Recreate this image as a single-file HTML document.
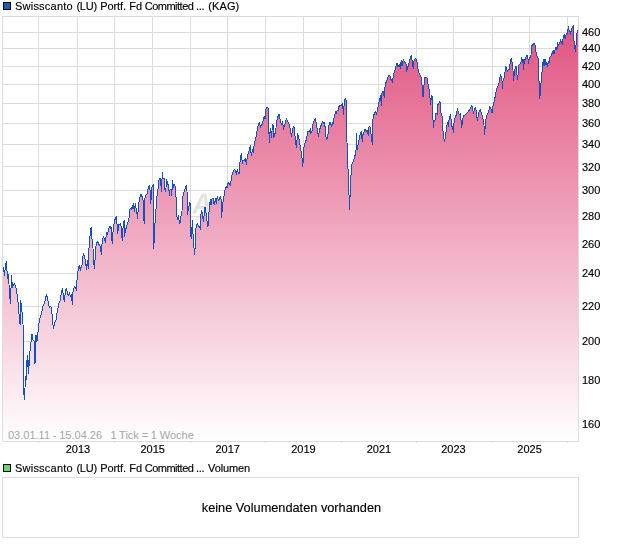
<!DOCTYPE html><html><head><meta charset="utf-8"><title>Chart</title><style>
html,body{margin:0;padding:0;background:#fff}
#c{position:relative;width:620px;height:546px;overflow:hidden;background:#fff;font-family:"Liberation Sans",sans-serif;font-size:11px;color:#000}
.t{position:absolute;white-space:nowrap;line-height:12px}
#tx{position:absolute;left:0;top:0;width:620px;height:546px;-webkit-text-stroke:0.15px #000;will-change:transform;transform:translateZ(0)}
.yl{left:582px}
.xl{width:40px;text-align:center}
</style></head><body><div id="c">
<svg width="620" height="546" viewBox="0 0 620 546" style="position:absolute;left:0;top:0">
<defs><linearGradient id="g" gradientUnits="userSpaceOnUse" x1="0" y1="16.5" x2="0" y2="441.5"><stop offset="0" stop-color="#e0507f"/><stop offset="1" stop-color="#ffffff"/></linearGradient></defs>
<rect x="0" y="0" width="620" height="546" fill="#fff"/>
<path d="M2.5,32.5H578.5M2.5,48.5H578.5M2.5,66.5H578.5M2.5,84.5H578.5M2.5,103.5H578.5M2.5,123.5H578.5M2.5,144.5H578.5M2.5,166.5H578.5M2.5,190.5H578.5M2.5,216.5H578.5M2.5,244.5H578.5M2.5,273.5H578.5M2.5,306.5H578.5M2.5,341.5H578.5M2.5,380.5H578.5M2.5,424.5H578.5M38.5,16.5V441.5M77.5,16.5V441.5M114.5,16.5V441.5M152.5,16.5V441.5M190.5,16.5V441.5M227.5,16.5V441.5M265.5,16.5V441.5M303.5,16.5V441.5M341.5,16.5V441.5M378.5,16.5V441.5M416.5,16.5V441.5M453.5,16.5V441.5M492.5,16.5V441.5M529.5,16.5V441.5M567.5,16.5V441.5" stroke="#dcdcdc" stroke-width="1" fill="none" shape-rendering="crispEdges"/>
<path d="M192.1,213.5 L201.6,193.8 L206.7,193.8 L209.3,213.5 L205.9,213.5 L205.3,208.7 L198.1,208.7 L195.8,213.5 Z M199.4,206 L204.9,206 L203.7,197 Z" fill="#e7e2dd" fill-rule="evenodd"/>
<path d="M2.5,441.5 L2.5,278.7 L2.5,272.6 L3.5,268.0 L4.5,276.0 L5.5,265.0 L6.5,262.0 L7.5,279.0 L8.5,275.0 L9.5,293.0 L10.4,303.5 L11.5,276.0 L12.5,287.2 L13.5,284.5 L14.5,283.3 L15.5,286.2 L16.5,290.2 L17.5,297.3 L18.4,305.4 L19.5,320.0 L20.2,325.0 L20.6,300.4 L21.2,304.0 L22.0,312.0 L23.0,324.0 L23.5,350.0 L23.7,388.0 L24.2,399.4 L25.0,388.0 L25.3,376.0 L26.0,380.0 L26.5,364.0 L27.5,356.0 L28.3,373.7 L28.8,360.0 L29.2,366.0 L29.5,357.0 L30.2,349.0 L32.0,334.3 L33.0,340.0 L34.2,341.0 L35.0,363.6 L36.0,335.3 L36.8,342.0 L37.5,338.0 L38.5,327.0 L39.5,320.0 L41.5,313.0 L43.0,306.0 L44.5,303.5 L46.5,294.3 L47.5,298.0 L48.5,304.0 L49.5,308.0 L50.5,306.5 L51.5,308.0 L52.5,320.0 L53.5,329.0 L54.5,323.0 L56.0,320.0 L57.0,313.0 L58.0,308.0 L59.0,303.0 L60.0,301.0 L61.0,295.0 L62.3,288.7 L63.0,293.3 L64.3,301.3 L65.5,290.2 L66.3,288.7 L67.5,293.3 L68.3,295.3 L69.5,292.8 L70.5,296.3 L71.3,294.3 L72.4,304.4 L72.7,293.3 L73.6,289.7 L74.5,286.7 L75.4,287.7 L76.3,290.2 L76.5,283.7 L77.5,276.0 L78.5,267.0 L79.5,266.0 L80.3,271.0 L81.0,267.5 L82.0,265.4 L83.3,253.3 L84.2,255.3 L85.2,259.4 L86.5,269.6 L87.3,260.9 L88.3,268.6 L88.5,252.3 L89.5,244.2 L90.2,232.6 L91.3,227.1 L92.0,239.2 L93.0,248.3 L93.8,263.4 L94.5,268.6 L95.3,255.3 L96.3,242.7 L97.3,242.2 L97.8,241.7 L98.5,243.2 L99.3,245.2 L100.3,246.3 L101.4,254.3 L102.3,239.7 L103.5,236.2 L104.5,240.2 L105.4,242.2 L106.5,232.6 L107.4,234.2 L108.3,230.6 L109.5,226.6 L110.4,228.1 L111.0,226.6 L111.8,239.2 L112.4,243.7 L113.2,229.1 L114.5,221.0 L116.2,216.2 L117.0,224.0 L117.8,233.6 L118.5,225.0 L120.3,223.6 L121.0,226.0 L122.2,240.2 L123.3,224.0 L124.2,220.0 L124.5,236.2 L125.5,230.0 L126.5,227.0 L128.0,222.0 L129.5,216.0 L130.0,209.4 L131.2,207.3 L132.0,209.4 L133.3,203.3 L134.4,211.4 L135.4,203.3 L136.2,209.4 L137.0,214.4 L137.6,218.4 L138.5,205.3 L139.5,199.3 L140.4,195.7 L141.2,194.2 L142.3,197.3 L143.2,200.3 L143.8,218.4 L144.3,223.6 L145.0,198.3 L146.0,195.2 L147.4,193.7 L148.3,187.2 L149.5,185.2 L150.4,194.2 L150.8,203.3 L151.7,188.2 L153.3,184.2 L153.5,219.4 L153.6,248.3 L154.3,239.2 L154.8,226.0 L155.5,216.0 L156.8,197.3 L157.8,191.2 L158.8,180.1 L160.3,178.1 L161.5,191.2 L162.3,172.1 L163.0,179.1 L164.0,178.1 L164.8,189.2 L165.8,191.2 L166.5,179.1 L167.4,182.6 L168.4,185.7 L169.5,195.7 L170.0,190.2 L171.2,189.2 L171.8,195.7 L172.4,180.1 L173.5,187.2 L174.4,184.2 L175.4,187.7 L176.4,203.3 L176.5,214.0 L177.5,220.0 L178.3,215.0 L179.5,223.1 L180.5,223.0 L181.0,216.0 L182.0,212.0 L182.2,199.4 L183.5,194.3 L184.5,190.3 L185.5,187.3 L186.5,185.2 L187.0,191.3 L187.5,214.6 L188.5,207.0 L189.0,206.4 L190.0,202.4 L190.5,233.2 L191.2,238.3 L192.5,220.1 L193.0,234.2 L193.8,245.3 L194.5,254.9 L195.3,245.3 L195.5,230.2 L196.5,226.2 L197.3,223.6 L198.3,225.7 L199.5,226.7 L200.5,229.2 L201.0,214.0 L201.8,210.0 L202.5,217.1 L203.5,221.6 L204.5,211.0 L205.0,207.0 L206.0,213.0 L207.0,220.6 L207.8,226.7 L208.5,224.2 L209.2,207.4 L209.5,205.3 L210.3,199.6 L211.0,204.7 L212.0,198.6 L213.0,197.9 L213.5,202.6 L214.5,204.3 L215.5,198.2 L216.3,203.3 L217.3,196.2 L218.3,199.6 L219.0,200.3 L220.3,196.2 L221.0,198.6 L221.8,217.5 L222.3,204.7 L223.3,200.6 L224.3,194.5 L225.5,187.3 L226.5,186.2 L227.0,188.3 L228.3,182.2 L229.4,183.7 L230.5,185.2 L231.5,176.2 L232.5,173.1 L233.5,171.1 L234.8,169.1 L235.5,171.6 L236.3,174.2 L237.3,169.6 L238.3,173.6 L239.2,173.3 L240.2,159.2 L241.5,153.2 L242.3,163.3 L243.3,160.2 L244.3,160.2 L245.5,158.7 L246.5,164.3 L247.5,154.2 L248.5,153.7 L249.5,148.1 L250.5,145.4 L251.2,155.5 L252.4,150.0 L253.3,153.0 L254.2,144.0 L255.5,139.5 L256.5,134.3 L257.5,128.2 L258.5,124.2 L259.5,122.2 L260.5,127.2 L261.5,125.2 L262.5,124.2 L263.5,118.1 L264.5,116.1 L265.0,119.2 L265.8,109.1 L267.0,107.1 L268.3,108.1 L268.8,131.3 L269.6,142.3 L270.0,132.3 L270.5,128.2 L271.5,137.3 L272.5,124.2 L273.3,125.2 L273.8,137.8 L274.8,134.3 L275.8,130.2 L276.5,121.2 L277.5,119.2 L278.5,114.1 L279.5,115.1 L280.0,119.2 L281.0,122.7 L281.8,124.2 L282.5,121.2 L283.5,129.2 L284.3,125.2 L285.3,123.7 L286.5,118.1 L287.5,121.2 L288.5,123.2 L289.5,125.2 L290.5,131.3 L291.5,136.3 L292.5,129.2 L293.5,126.2 L294.5,128.2 L295.3,140.3 L296.5,147.5 L297.0,140.3 L297.5,133.3 L298.5,137.3 L299.3,139.4 L300.5,149.4 L301.5,152.4 L302.7,166.1 L303.3,159.3 L304.0,146.9 L304.3,144.4 L305.5,141.4 L306.8,139.4 L307.3,132.3 L308.5,131.3 L309.5,131.8 L310.3,128.8 L310.8,133.8 L312.0,131.3 L312.8,124.2 L313.8,121.7 L315.5,118.7 L316.3,123.7 L317.3,130.3 L318.5,136.8 L319.5,130.3 L320.5,126.8 L321.5,124.2 L322.3,121.7 L323.3,123.7 L324.0,122.2 L324.5,125.7 L325.5,127.3 L326.0,137.3 L327.0,139.4 L327.8,136.8 L328.5,126.3 L329.5,123.2 L330.5,122.2 L331.5,126.8 L332.5,122.2 L333.0,124.2 L333.8,118.7 L334.5,116.2 L335.5,111.6 L336.5,113.1 L337.3,110.1 L338.0,110.6 L338.5,107.6 L339.8,105.1 L341.0,105.6 L342.5,103.6 L343.5,114.2 L344.3,101.0 L345.3,98.5 L346.5,101.6 L347.0,142.4 L347.5,153.8 L348.0,168.9 L348.8,190.9 L349.7,209.5 L350.2,189.5 L350.8,179.9 L351.5,164.8 L352.5,162.7 L353.5,161.3 L354.5,157.2 L355.5,153.8 L356.3,148.3 L356.5,133.3 L357.0,150.0 L358.0,145.0 L359.0,140.3 L360.0,135.3 L361.3,131.3 L362.3,141.8 L362.8,134.8 L363.5,134.8 L364.3,130.2 L365.3,129.2 L366.3,131.3 L367.3,130.2 L368.3,135.8 L369.0,126.7 L369.8,126.2 L370.5,130.2 L371.5,137.3 L372.3,144.9 L372.5,122.7 L373.5,116.1 L374.5,113.1 L375.5,111.6 L376.5,114.1 L377.5,110.6 L378.5,104.5 L379.3,101.0 L380.0,98.4 L380.5,95.9 L381.4,105.5 L382.0,92.8 L383.3,91.3 L384.3,97.4 L384.8,90.3 L385.3,83.3 L386.5,81.8 L387.5,77.7 L388.5,76.2 L389.5,75.2 L390.3,76.7 L390.8,79.2 L391.5,79.7 L392.5,82.3 L393.3,75.2 L394.3,71.7 L395.3,69.2 L396.3,64.6 L397.3,63.1 L398.0,67.1 L398.8,65.1 L399.5,64.6 L400.3,68.6 L401.3,60.1 L402.0,66.1 L403.3,59.1 L404.3,62.1 L405.3,62.6 L406.3,65.1 L406.8,71.2 L407.5,67.1 L408.3,66.1 L409.5,61.1 L410.5,57.1 L411.3,55.0 L412.0,60.1 L412.8,65.1 L413.3,68.6 L414.0,60.6 L415.5,58.1 L416.5,60.1 L417.5,64.6 L418.3,71.6 L419.5,74.6 L420.5,75.1 L421.5,79.2 L422.3,88.2 L423.0,97.3 L423.8,88.2 L424.5,77.6 L426.8,77.6 L427.5,78.6 L428.3,86.7 L429.3,90.2 L430.0,98.3 L430.5,104.4 L431.5,95.8 L432.5,96.8 L432.8,116.1 L433.4,127.7 L434.0,121.7 L435.0,120.2 L435.5,113.6 L436.5,113.1 L437.3,114.1 L437.8,105.0 L438.8,103.0 L440.0,101.4 L440.8,112.1 L441.8,114.6 L442.5,120.2 L443.0,131.3 L443.8,138.3 L444.5,141.3 L445.5,136.3 L446.5,127.2 L447.5,122.7 L448.3,126.2 L448.8,120.2 L449.5,118.6 L450.3,114.6 L451.0,119.2 L451.8,126.2 L452.5,127.2 L453.5,132.3 L454.0,123.2 L454.8,118.6 L455.5,115.6 L456.3,115.1 L457.5,108.5 L458.3,113.1 L459.3,114.6 L460.3,113.6 L461.0,120.2 L461.8,127.2 L462.5,121.2 L463.3,116.1 L464.5,115.1 L465.5,114.6 L467.0,113.1 L468.5,111.6 L469.5,109.3 L470.5,108.5 L471.5,105.2 L472.5,107.5 L473.5,114.0 L474.3,110.0 L475.3,107.5 L476.0,110.2 L476.5,115.0 L477.5,120.7 L478.3,115.0 L479.0,112.0 L480.3,109.2 L481.3,113.2 L482.3,116.3 L483.3,120.3 L484.0,125.3 L484.5,134.4 L485.3,125.3 L486.0,119.3 L487.0,115.2 L488.0,112.7 L489.0,110.2 L489.7,106.7 L490.5,108.7 L491.0,109.2 L492.0,112.7 L492.5,108.2 L493.5,103.6 L494.5,100.1 L495.5,95.1 L496.5,90.0 L497.3,87.4 L498.5,84.4 L499.5,80.9 L500.3,74.3 L501.3,76.3 L502.0,80.9 L502.3,88.5 L503.0,81.4 L504.0,78.3 L504.8,75.3 L505.3,66.3 L506.3,67.3 L507.3,71.3 L508.3,69.8 L509.5,69.3 L510.3,61.2 L511.3,58.2 L512.0,62.2 L512.5,66.3 L513.0,70.3 L513.5,80.4 L514.3,73.3 L515.3,67.3 L516.3,66.3 L516.8,73.3 L517.5,79.4 L518.3,73.3 L519.0,65.2 L520.0,63.7 L521.0,62.2 L521.5,57.2 L522.3,62.2 L523.0,59.2 L523.5,69.3 L524.3,61.2 L525.3,58.7 L526.3,56.7 L527.3,55.2 L528.0,59.2 L528.5,63.7 L529.3,58.2 L530.3,57.0 L531.0,55.0 L531.5,46.2 L532.5,45.2 L534.3,43.4 L535.0,45.2 L535.8,50.2 L536.5,55.2 L537.5,56.5 L538.2,59.0 L538.5,75.2 L539.3,84.3 L539.8,98.4 L540.5,90.3 L541.0,83.3 L541.5,76.2 L542.3,70.0 L543.3,59.5 L544.0,65.8 L545.0,59.5 L546.0,64.8 L546.8,62.0 L547.5,66.5 L548.4,61.3 L549.3,62.4 L549.5,57.3 L550.5,56.3 L551.5,55.3 L552.5,51.8 L553.3,50.3 L554.0,53.8 L554.5,52.8 L555.3,47.8 L556.5,47.3 L557.0,49.8 L557.5,42.2 L558.3,45.2 L559.3,43.7 L560.0,42.2 L560.5,39.2 L561.3,41.7 L562.3,44.7 L562.8,40.2 L563.5,35.2 L564.3,34.7 L565.3,38.7 L566.0,35.2 L567.0,33.6 L567.8,31.1 L568.3,26.1 L569.0,30.1 L570.0,31.6 L570.5,34.2 L571.3,30.1 L572.0,28.1 L573.3,25.1 L573.8,39.2 L574.5,46.3 L575.5,51.8 L576.0,45.2 L576.5,37.2 L577.5,30.1 L578.0,30.1 L578.0,441.5 Z" fill="url(#g)" stroke="none"/>
<polyline points="2.5,278.7 2.5,272.6 3.5,268.0 4.5,276.0 5.5,265.0 6.5,262.0 7.5,279.0 8.5,275.0 9.5,293.0 10.4,303.5 11.5,276.0 12.5,287.2 13.5,284.5 14.5,283.3 15.5,286.2 16.5,290.2 17.5,297.3 18.4,305.4 19.5,320.0 20.2,325.0 20.6,300.4 21.2,304.0 22.0,312.0 23.0,324.0 23.5,350.0 23.7,388.0 24.2,399.4 25.0,388.0 25.3,376.0 26.0,380.0 26.5,364.0 27.5,356.0 28.3,373.7 28.8,360.0 29.2,366.0 29.5,357.0 30.2,349.0 32.0,334.3 33.0,340.0 34.2,341.0 35.0,363.6 36.0,335.3 36.8,342.0 37.5,338.0 38.5,327.0 39.5,320.0 41.5,313.0 43.0,306.0 44.5,303.5 46.5,294.3 47.5,298.0 48.5,304.0 49.5,308.0 50.5,306.5 51.5,308.0 52.5,320.0 53.5,329.0 54.5,323.0 56.0,320.0 57.0,313.0 58.0,308.0 59.0,303.0 60.0,301.0 61.0,295.0 62.3,288.7 63.0,293.3 64.3,301.3 65.5,290.2 66.3,288.7 67.5,293.3 68.3,295.3 69.5,292.8 70.5,296.3 71.3,294.3 72.4,304.4 72.7,293.3 73.6,289.7 74.5,286.7 75.4,287.7 76.3,290.2 76.5,283.7 77.5,276.0 78.5,267.0 79.5,266.0 80.3,271.0 81.0,267.5 82.0,265.4 83.3,253.3 84.2,255.3 85.2,259.4 86.5,269.6 87.3,260.9 88.3,268.6 88.5,252.3 89.5,244.2 90.2,232.6 91.3,227.1 92.0,239.2 93.0,248.3 93.8,263.4 94.5,268.6 95.3,255.3 96.3,242.7 97.3,242.2 97.8,241.7 98.5,243.2 99.3,245.2 100.3,246.3 101.4,254.3 102.3,239.7 103.5,236.2 104.5,240.2 105.4,242.2 106.5,232.6 107.4,234.2 108.3,230.6 109.5,226.6 110.4,228.1 111.0,226.6 111.8,239.2 112.4,243.7 113.2,229.1 114.5,221.0 116.2,216.2 117.0,224.0 117.8,233.6 118.5,225.0 120.3,223.6 121.0,226.0 122.2,240.2 123.3,224.0 124.2,220.0 124.5,236.2 125.5,230.0 126.5,227.0 128.0,222.0 129.5,216.0 130.0,209.4 131.2,207.3 132.0,209.4 133.3,203.3 134.4,211.4 135.4,203.3 136.2,209.4 137.0,214.4 137.6,218.4 138.5,205.3 139.5,199.3 140.4,195.7 141.2,194.2 142.3,197.3 143.2,200.3 143.8,218.4 144.3,223.6 145.0,198.3 146.0,195.2 147.4,193.7 148.3,187.2 149.5,185.2 150.4,194.2 150.8,203.3 151.7,188.2 153.3,184.2 153.5,219.4 153.6,248.3 154.3,239.2 154.8,226.0 155.5,216.0 156.8,197.3 157.8,191.2 158.8,180.1 160.3,178.1 161.5,191.2 162.3,172.1 163.0,179.1 164.0,178.1 164.8,189.2 165.8,191.2 166.5,179.1 167.4,182.6 168.4,185.7 169.5,195.7 170.0,190.2 171.2,189.2 171.8,195.7 172.4,180.1 173.5,187.2 174.4,184.2 175.4,187.7 176.4,203.3 176.5,214.0 177.5,220.0 178.3,215.0 179.5,223.1 180.5,223.0 181.0,216.0 182.0,212.0 182.2,199.4 183.5,194.3 184.5,190.3 185.5,187.3 186.5,185.2 187.0,191.3 187.5,214.6 188.5,207.0 189.0,206.4 190.0,202.4 190.5,233.2 191.2,238.3 192.5,220.1 193.0,234.2 193.8,245.3 194.5,254.9 195.3,245.3 195.5,230.2 196.5,226.2 197.3,223.6 198.3,225.7 199.5,226.7 200.5,229.2 201.0,214.0 201.8,210.0 202.5,217.1 203.5,221.6 204.5,211.0 205.0,207.0 206.0,213.0 207.0,220.6 207.8,226.7 208.5,224.2 209.2,207.4 209.5,205.3 210.3,199.6 211.0,204.7 212.0,198.6 213.0,197.9 213.5,202.6 214.5,204.3 215.5,198.2 216.3,203.3 217.3,196.2 218.3,199.6 219.0,200.3 220.3,196.2 221.0,198.6 221.8,217.5 222.3,204.7 223.3,200.6 224.3,194.5 225.5,187.3 226.5,186.2 227.0,188.3 228.3,182.2 229.4,183.7 230.5,185.2 231.5,176.2 232.5,173.1 233.5,171.1 234.8,169.1 235.5,171.6 236.3,174.2 237.3,169.6 238.3,173.6 239.2,173.3 240.2,159.2 241.5,153.2 242.3,163.3 243.3,160.2 244.3,160.2 245.5,158.7 246.5,164.3 247.5,154.2 248.5,153.7 249.5,148.1 250.5,145.4 251.2,155.5 252.4,150.0 253.3,153.0 254.2,144.0 255.5,139.5 256.5,134.3 257.5,128.2 258.5,124.2 259.5,122.2 260.5,127.2 261.5,125.2 262.5,124.2 263.5,118.1 264.5,116.1 265.0,119.2 265.8,109.1 267.0,107.1 268.3,108.1 268.8,131.3 269.6,142.3 270.0,132.3 270.5,128.2 271.5,137.3 272.5,124.2 273.3,125.2 273.8,137.8 274.8,134.3 275.8,130.2 276.5,121.2 277.5,119.2 278.5,114.1 279.5,115.1 280.0,119.2 281.0,122.7 281.8,124.2 282.5,121.2 283.5,129.2 284.3,125.2 285.3,123.7 286.5,118.1 287.5,121.2 288.5,123.2 289.5,125.2 290.5,131.3 291.5,136.3 292.5,129.2 293.5,126.2 294.5,128.2 295.3,140.3 296.5,147.5 297.0,140.3 297.5,133.3 298.5,137.3 299.3,139.4 300.5,149.4 301.5,152.4 302.7,166.1 303.3,159.3 304.0,146.9 304.3,144.4 305.5,141.4 306.8,139.4 307.3,132.3 308.5,131.3 309.5,131.8 310.3,128.8 310.8,133.8 312.0,131.3 312.8,124.2 313.8,121.7 315.5,118.7 316.3,123.7 317.3,130.3 318.5,136.8 319.5,130.3 320.5,126.8 321.5,124.2 322.3,121.7 323.3,123.7 324.0,122.2 324.5,125.7 325.5,127.3 326.0,137.3 327.0,139.4 327.8,136.8 328.5,126.3 329.5,123.2 330.5,122.2 331.5,126.8 332.5,122.2 333.0,124.2 333.8,118.7 334.5,116.2 335.5,111.6 336.5,113.1 337.3,110.1 338.0,110.6 338.5,107.6 339.8,105.1 341.0,105.6 342.5,103.6 343.5,114.2 344.3,101.0 345.3,98.5 346.5,101.6 347.0,142.4 347.5,153.8 348.0,168.9 348.8,190.9 349.7,209.5 350.2,189.5 350.8,179.9 351.5,164.8 352.5,162.7 353.5,161.3 354.5,157.2 355.5,153.8 356.3,148.3 356.5,133.3 357.0,150.0 358.0,145.0 359.0,140.3 360.0,135.3 361.3,131.3 362.3,141.8 362.8,134.8 363.5,134.8 364.3,130.2 365.3,129.2 366.3,131.3 367.3,130.2 368.3,135.8 369.0,126.7 369.8,126.2 370.5,130.2 371.5,137.3 372.3,144.9 372.5,122.7 373.5,116.1 374.5,113.1 375.5,111.6 376.5,114.1 377.5,110.6 378.5,104.5 379.3,101.0 380.0,98.4 380.5,95.9 381.4,105.5 382.0,92.8 383.3,91.3 384.3,97.4 384.8,90.3 385.3,83.3 386.5,81.8 387.5,77.7 388.5,76.2 389.5,75.2 390.3,76.7 390.8,79.2 391.5,79.7 392.5,82.3 393.3,75.2 394.3,71.7 395.3,69.2 396.3,64.6 397.3,63.1 398.0,67.1 398.8,65.1 399.5,64.6 400.3,68.6 401.3,60.1 402.0,66.1 403.3,59.1 404.3,62.1 405.3,62.6 406.3,65.1 406.8,71.2 407.5,67.1 408.3,66.1 409.5,61.1 410.5,57.1 411.3,55.0 412.0,60.1 412.8,65.1 413.3,68.6 414.0,60.6 415.5,58.1 416.5,60.1 417.5,64.6 418.3,71.6 419.5,74.6 420.5,75.1 421.5,79.2 422.3,88.2 423.0,97.3 423.8,88.2 424.5,77.6 426.8,77.6 427.5,78.6 428.3,86.7 429.3,90.2 430.0,98.3 430.5,104.4 431.5,95.8 432.5,96.8 432.8,116.1 433.4,127.7 434.0,121.7 435.0,120.2 435.5,113.6 436.5,113.1 437.3,114.1 437.8,105.0 438.8,103.0 440.0,101.4 440.8,112.1 441.8,114.6 442.5,120.2 443.0,131.3 443.8,138.3 444.5,141.3 445.5,136.3 446.5,127.2 447.5,122.7 448.3,126.2 448.8,120.2 449.5,118.6 450.3,114.6 451.0,119.2 451.8,126.2 452.5,127.2 453.5,132.3 454.0,123.2 454.8,118.6 455.5,115.6 456.3,115.1 457.5,108.5 458.3,113.1 459.3,114.6 460.3,113.6 461.0,120.2 461.8,127.2 462.5,121.2 463.3,116.1 464.5,115.1 465.5,114.6 467.0,113.1 468.5,111.6 469.5,109.3 470.5,108.5 471.5,105.2 472.5,107.5 473.5,114.0 474.3,110.0 475.3,107.5 476.0,110.2 476.5,115.0 477.5,120.7 478.3,115.0 479.0,112.0 480.3,109.2 481.3,113.2 482.3,116.3 483.3,120.3 484.0,125.3 484.5,134.4 485.3,125.3 486.0,119.3 487.0,115.2 488.0,112.7 489.0,110.2 489.7,106.7 490.5,108.7 491.0,109.2 492.0,112.7 492.5,108.2 493.5,103.6 494.5,100.1 495.5,95.1 496.5,90.0 497.3,87.4 498.5,84.4 499.5,80.9 500.3,74.3 501.3,76.3 502.0,80.9 502.3,88.5 503.0,81.4 504.0,78.3 504.8,75.3 505.3,66.3 506.3,67.3 507.3,71.3 508.3,69.8 509.5,69.3 510.3,61.2 511.3,58.2 512.0,62.2 512.5,66.3 513.0,70.3 513.5,80.4 514.3,73.3 515.3,67.3 516.3,66.3 516.8,73.3 517.5,79.4 518.3,73.3 519.0,65.2 520.0,63.7 521.0,62.2 521.5,57.2 522.3,62.2 523.0,59.2 523.5,69.3 524.3,61.2 525.3,58.7 526.3,56.7 527.3,55.2 528.0,59.2 528.5,63.7 529.3,58.2 530.3,57.0 531.0,55.0 531.5,46.2 532.5,45.2 534.3,43.4 535.0,45.2 535.8,50.2 536.5,55.2 537.5,56.5 538.2,59.0 538.5,75.2 539.3,84.3 539.8,98.4 540.5,90.3 541.0,83.3 541.5,76.2 542.3,70.0 543.3,59.5 544.0,65.8 545.0,59.5 546.0,64.8 546.8,62.0 547.5,66.5 548.4,61.3 549.3,62.4 549.5,57.3 550.5,56.3 551.5,55.3 552.5,51.8 553.3,50.3 554.0,53.8 554.5,52.8 555.3,47.8 556.5,47.3 557.0,49.8 557.5,42.2 558.3,45.2 559.3,43.7 560.0,42.2 560.5,39.2 561.3,41.7 562.3,44.7 562.8,40.2 563.5,35.2 564.3,34.7 565.3,38.7 566.0,35.2 567.0,33.6 567.8,31.1 568.3,26.1 569.0,30.1 570.0,31.6 570.5,34.2 571.3,30.1 572.0,28.1 573.3,25.1 573.8,39.2 574.5,46.3 575.5,51.8 576.0,45.2 576.5,37.2 577.5,30.1" fill="none" stroke="#1450be" stroke-width="1" stroke-linejoin="round" shape-rendering="crispEdges"/>
<rect x="2.5" y="16.5" width="576.0" height="425.0" fill="none" stroke="#dcdcdc" stroke-width="1" shape-rendering="crispEdges"/>
<path d="M38.5,442.0v1M77.5,442.0v1M114.5,442.0v1M152.5,442.0v1M190.5,442.0v1M227.5,442.0v1M265.5,442.0v1M303.5,442.0v1M341.5,442.0v1M378.5,442.0v1M416.5,442.0v1M453.5,442.0v1M492.5,442.0v1M529.5,442.0v1M567.5,442.0v1" stroke="#dcdcdc" stroke-width="1" fill="none" shape-rendering="crispEdges"/>
<rect x="2.5" y="477.5" width="576.0" height="60" fill="#fff" stroke="#dcdcdc" stroke-width="1" shape-rendering="crispEdges"/>
<rect x="3.5" y="2.5" width="7" height="7" fill="#1f5bba" stroke="#000000" stroke-width="1" shape-rendering="crispEdges"/>
<rect x="3.5" y="464.5" width="7" height="7" fill="#68d86e" stroke="#000000" stroke-width="1" shape-rendering="crispEdges"/>
</svg>
<div class="t" style="left:8px;top:429px;color:#a6a6a6;word-spacing:-0.27px">03.01.11 - 15.04.26&nbsp;&nbsp; 1 Tick = 1 Woche</div>
<div id="tx">
<span class="t" style="left:15.0px;top:0px;letter-spacing:0.22px">Swisscanto</span><span class="t" style="left:76.4px;top:0px;letter-spacing:-0.2px">(LU)</span><span class="t" style="left:100.2px;top:0px;letter-spacing:-0.08px">Portf.</span><span class="t" style="left:129.2px;top:0px;letter-spacing:0px">Fd</span><span class="t" style="left:144.7px;top:0px;letter-spacing:-0.5px">Committed</span><span class="t" style="left:196.0px;top:0px;letter-spacing:-0.3px">...</span><span class="t" style="left:208.3px;top:0px;letter-spacing:0.1px">(KAG)</span>
<span class="t" style="left:15.0px;top:462px;letter-spacing:0.22px">Swisscanto</span><span class="t" style="left:76.4px;top:462px;letter-spacing:-0.2px">(LU)</span><span class="t" style="left:100.2px;top:462px;letter-spacing:-0.08px">Portf.</span><span class="t" style="left:129.2px;top:462px;letter-spacing:0px">Fd</span><span class="t" style="left:144.7px;top:462px;letter-spacing:-0.5px">Committed</span><span class="t" style="left:196.0px;top:462px;letter-spacing:-0.3px">...</span><span class="t" style="left:208px;top:462px;letter-spacing:-0.1px">Volumen</span>
<div class="t" style="left:201.8px;top:501px;font-size:12.75px;line-height:14px">keine Volumendaten vorhanden</div>
<div class="t yl" style="top:25.8px">460</div>
<div class="t yl" style="top:42.3px">440</div>
<div class="t yl" style="top:59.6px">420</div>
<div class="t yl" style="top:77.7px">400</div>
<div class="t yl" style="top:96.7px">380</div>
<div class="t yl" style="top:116.8px">360</div>
<div class="t yl" style="top:138.0px">340</div>
<div class="t yl" style="top:160.5px">320</div>
<div class="t yl" style="top:184.4px">300</div>
<div class="t yl" style="top:210.0px">280</div>
<div class="t yl" style="top:237.5px">260</div>
<div class="t yl" style="top:267.2px">240</div>
<div class="t yl" style="top:299.5px">220</div>
<div class="t yl" style="top:334.9px">200</div>
<div class="t yl" style="top:374.0px">180</div>
<div class="t yl" style="top:417.7px">160</div>
<div class="t xl" style="left:57.9px;top:443px">2013</div>
<div class="t xl" style="left:132.7px;top:443px">2015</div>
<div class="t xl" style="left:207.7px;top:443px">2017</div>
<div class="t xl" style="left:283.5px;top:443px">2019</div>
<div class="t xl" style="left:358.9px;top:443px">2021</div>
<div class="t xl" style="left:433.5px;top:443px">2023</div>
<div class="t xl" style="left:509.6px;top:443px">2025</div>
</div></div></body></html>
